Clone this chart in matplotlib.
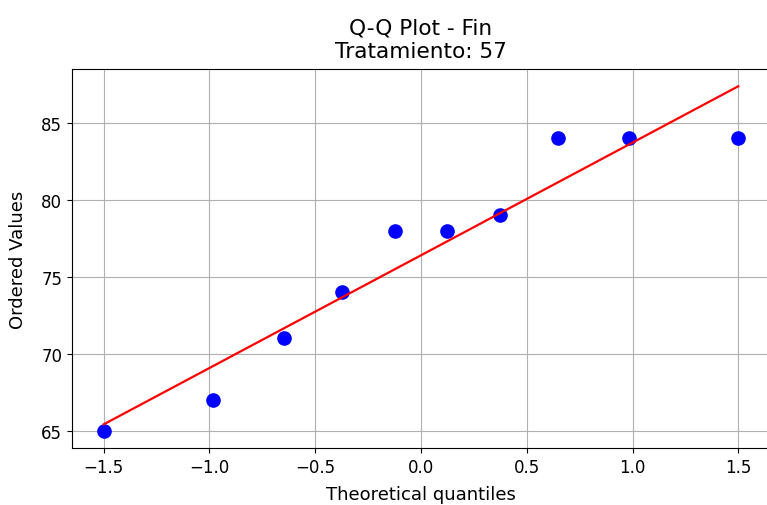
import numpy as np
import matplotlib
matplotlib.use('Agg')
import matplotlib.pyplot as plt

# theoretical normal quantiles (Filliben) and sorted observations
theoretical = [-1.499, -0.985, -0.647, -0.371, -0.121, 0.121, 0.371, 0.647, 0.985, 1.499]
ordered = [65, 67, 71, 74, 78, 78, 79, 84, 84, 84]

x = np.array(theoretical)
y = np.array(ordered)
slope, intercept = np.polyfit(x, y, 1)

fig = plt.figure(figsize=(7.67, 5.06), dpi=100)
ax = fig.add_axes([72 / 767, 0.1126, 698 / 767, 0.749])

ax.plot(x, y, 'bo', markersize=9.5)
ax.plot(x, slope * x + intercept, 'r-', linewidth=1.6)

ax.set_xlabel('Theoretical quantiles', fontsize=13, labelpad=7)
ax.set_ylabel('Ordered Values', fontsize=13, labelpad=10)
ax.set_title('Q-Q Plot - Fin\nTratamiento: 57', fontsize=15.6, pad=9)
ax.tick_params(labelsize=12)
ax.grid(True)

fig.savefig('out.png', dpi=100)
